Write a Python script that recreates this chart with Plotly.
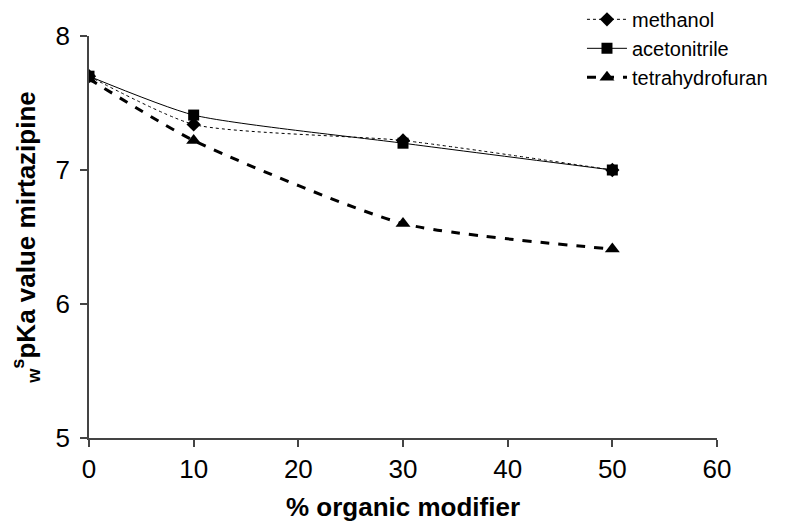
import plotly.graph_objects as go

x_values = [0, 10, 30, 50]
methanol = [7.70, 7.34, 7.22, 7.00]
acetonitrile = [7.70, 7.41, 7.20, 7.00]
tetrahydrofuran = [7.68, 7.22, 6.60, 6.41]

x_ticks = [0, 10, 20, 30, 40, 50, 60]
y_ticks = [5, 6, 7, 8]

FONT = "Liberation Sans, Arial, sans-serif"

fig = go.Figure()
fig.add_trace(go.Scatter(
    x=x_values, y=methanol, name="methanol", mode="lines+markers",
    line=dict(color="black", width=1, dash="dot", shape="spline", smoothing=0.6),
    marker=dict(symbol="diamond", size=11, color="black"),
))
fig.add_trace(go.Scatter(
    x=x_values, y=acetonitrile, name="acetonitrile", mode="lines+markers",
    line=dict(color="black", width=1, shape="spline", smoothing=0.6),
    marker=dict(symbol="square", size=11, color="black"),
))
fig.add_trace(go.Scatter(
    x=x_values, y=tetrahydrofuran, name="tetrahydrofuran", mode="lines+markers",
    line=dict(color="black", width=3, dash="dash", shape="spline", smoothing=0.6),
    marker=dict(symbol="triangle-up", size=13, color="black"),
))

fig.update_layout(
    width=794, height=525,
    margin=dict(l=81, r=85, t=28, b=95, autoexpand=False),
    paper_bgcolor="white", plot_bgcolor="white",
    font=dict(family=FONT, color="black"),
    showlegend=True,
    legend=dict(
        x=0.785, y=1.09, xanchor="left", yanchor="top",
        font=dict(size=20, family=FONT, color="black"),
        bgcolor="rgba(0,0,0,0)", tracegroupgap=0, itemwidth=40,
    ),
    xaxis=dict(
        range=[0, 60], tickvals=x_ticks, ticktext=[str(v) for v in x_ticks],
        showgrid=False, zeroline=False, showline=True, linecolor="#444", linewidth=1.5,
        ticks="outside", ticklen=7, tickcolor="#444", tickwidth=1.5,
        tickfont=dict(size=26, family=FONT), automargin=False,
        title=dict(text="<b>% organic modifier</b>", font=dict(size=26, family=FONT), standoff=15),
    ),
    yaxis=dict(
        range=[5, 8], tickvals=y_ticks, ticktext=[str(v) for v in y_ticks],
        showgrid=False, zeroline=False, showline=True, linecolor="#444", linewidth=1.5,
        ticks="outside", ticklen=7, tickcolor="#444", tickwidth=1.5,
        ticklabelstandoff=5,
        tickfont=dict(size=26, family=FONT), automargin=False,
        title=dict(text="<b><sub>w</sub><sup>s</sup>pKa value mirtazipine</b>",
                   font=dict(size=26, family=FONT), standoff=16),
    ),
)

fig.write_html("out.html")
